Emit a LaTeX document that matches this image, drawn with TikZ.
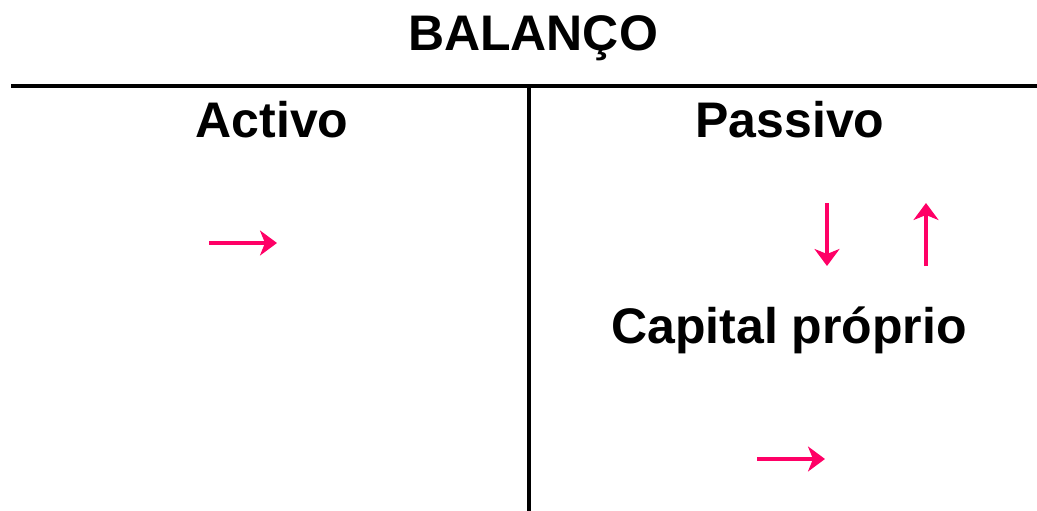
\documentclass[tikz,border=0pt]{standalone}
\usepackage{fontspec}
\setmainfont{Liberation Sans}
\usetikzlibrary{arrows.meta}
\definecolor{arrowpink}{HTML}{FF0066}
\tikzset{
  label text/.style={font=\bfseries\fontsize{50}{60}\selectfont, inner sep=0pt, anchor=base},
  rule/.style={line width=4.5pt, black},
  pinkarrow/.style={line width=4pt, arrowpink, -{Stealth[length=17pt, width=25pt, inset=5pt]}}
}
\begin{document}
\begin{tikzpicture}[x=1pt, y=-1pt]
\useasboundingbox (0,0) rectangle (1037,511);
\node[label text] (title) at (533,51) {BALANÇO};
\node[label text] (activo) at (272,137) {Activo};
\node[label text] (passivo) at (790,137) {Passivo};
\node[label text] (capital) at (789,343) {Capital próprio};
\coordinate (hl) at (11,86);
\coordinate (hr) at (1037,86);
\coordinate (vt) at (529,86);
\coordinate (vb) at (529,511);
\draw[rule] (hl) -- (hr);
\draw[rule] (vt) -- (vb);
\coordinate (a1s) at (209,243);
\coordinate (a1e) at (277,243);
\coordinate (a2s) at (827,203);
\coordinate (a2e) at (827,266);
\coordinate (a3s) at (926,266);
\coordinate (a3e) at (926,203);
\coordinate (a4s) at (757,459);
\coordinate (a4e) at (825,459);
\draw[pinkarrow] (a1s) -- (a1e);
\draw[pinkarrow] (a2s) -- (a2e);
\draw[pinkarrow] (a3s) -- (a3e);
\draw[pinkarrow] (a4s) -- (a4e);
\end{tikzpicture}
\end{document}
